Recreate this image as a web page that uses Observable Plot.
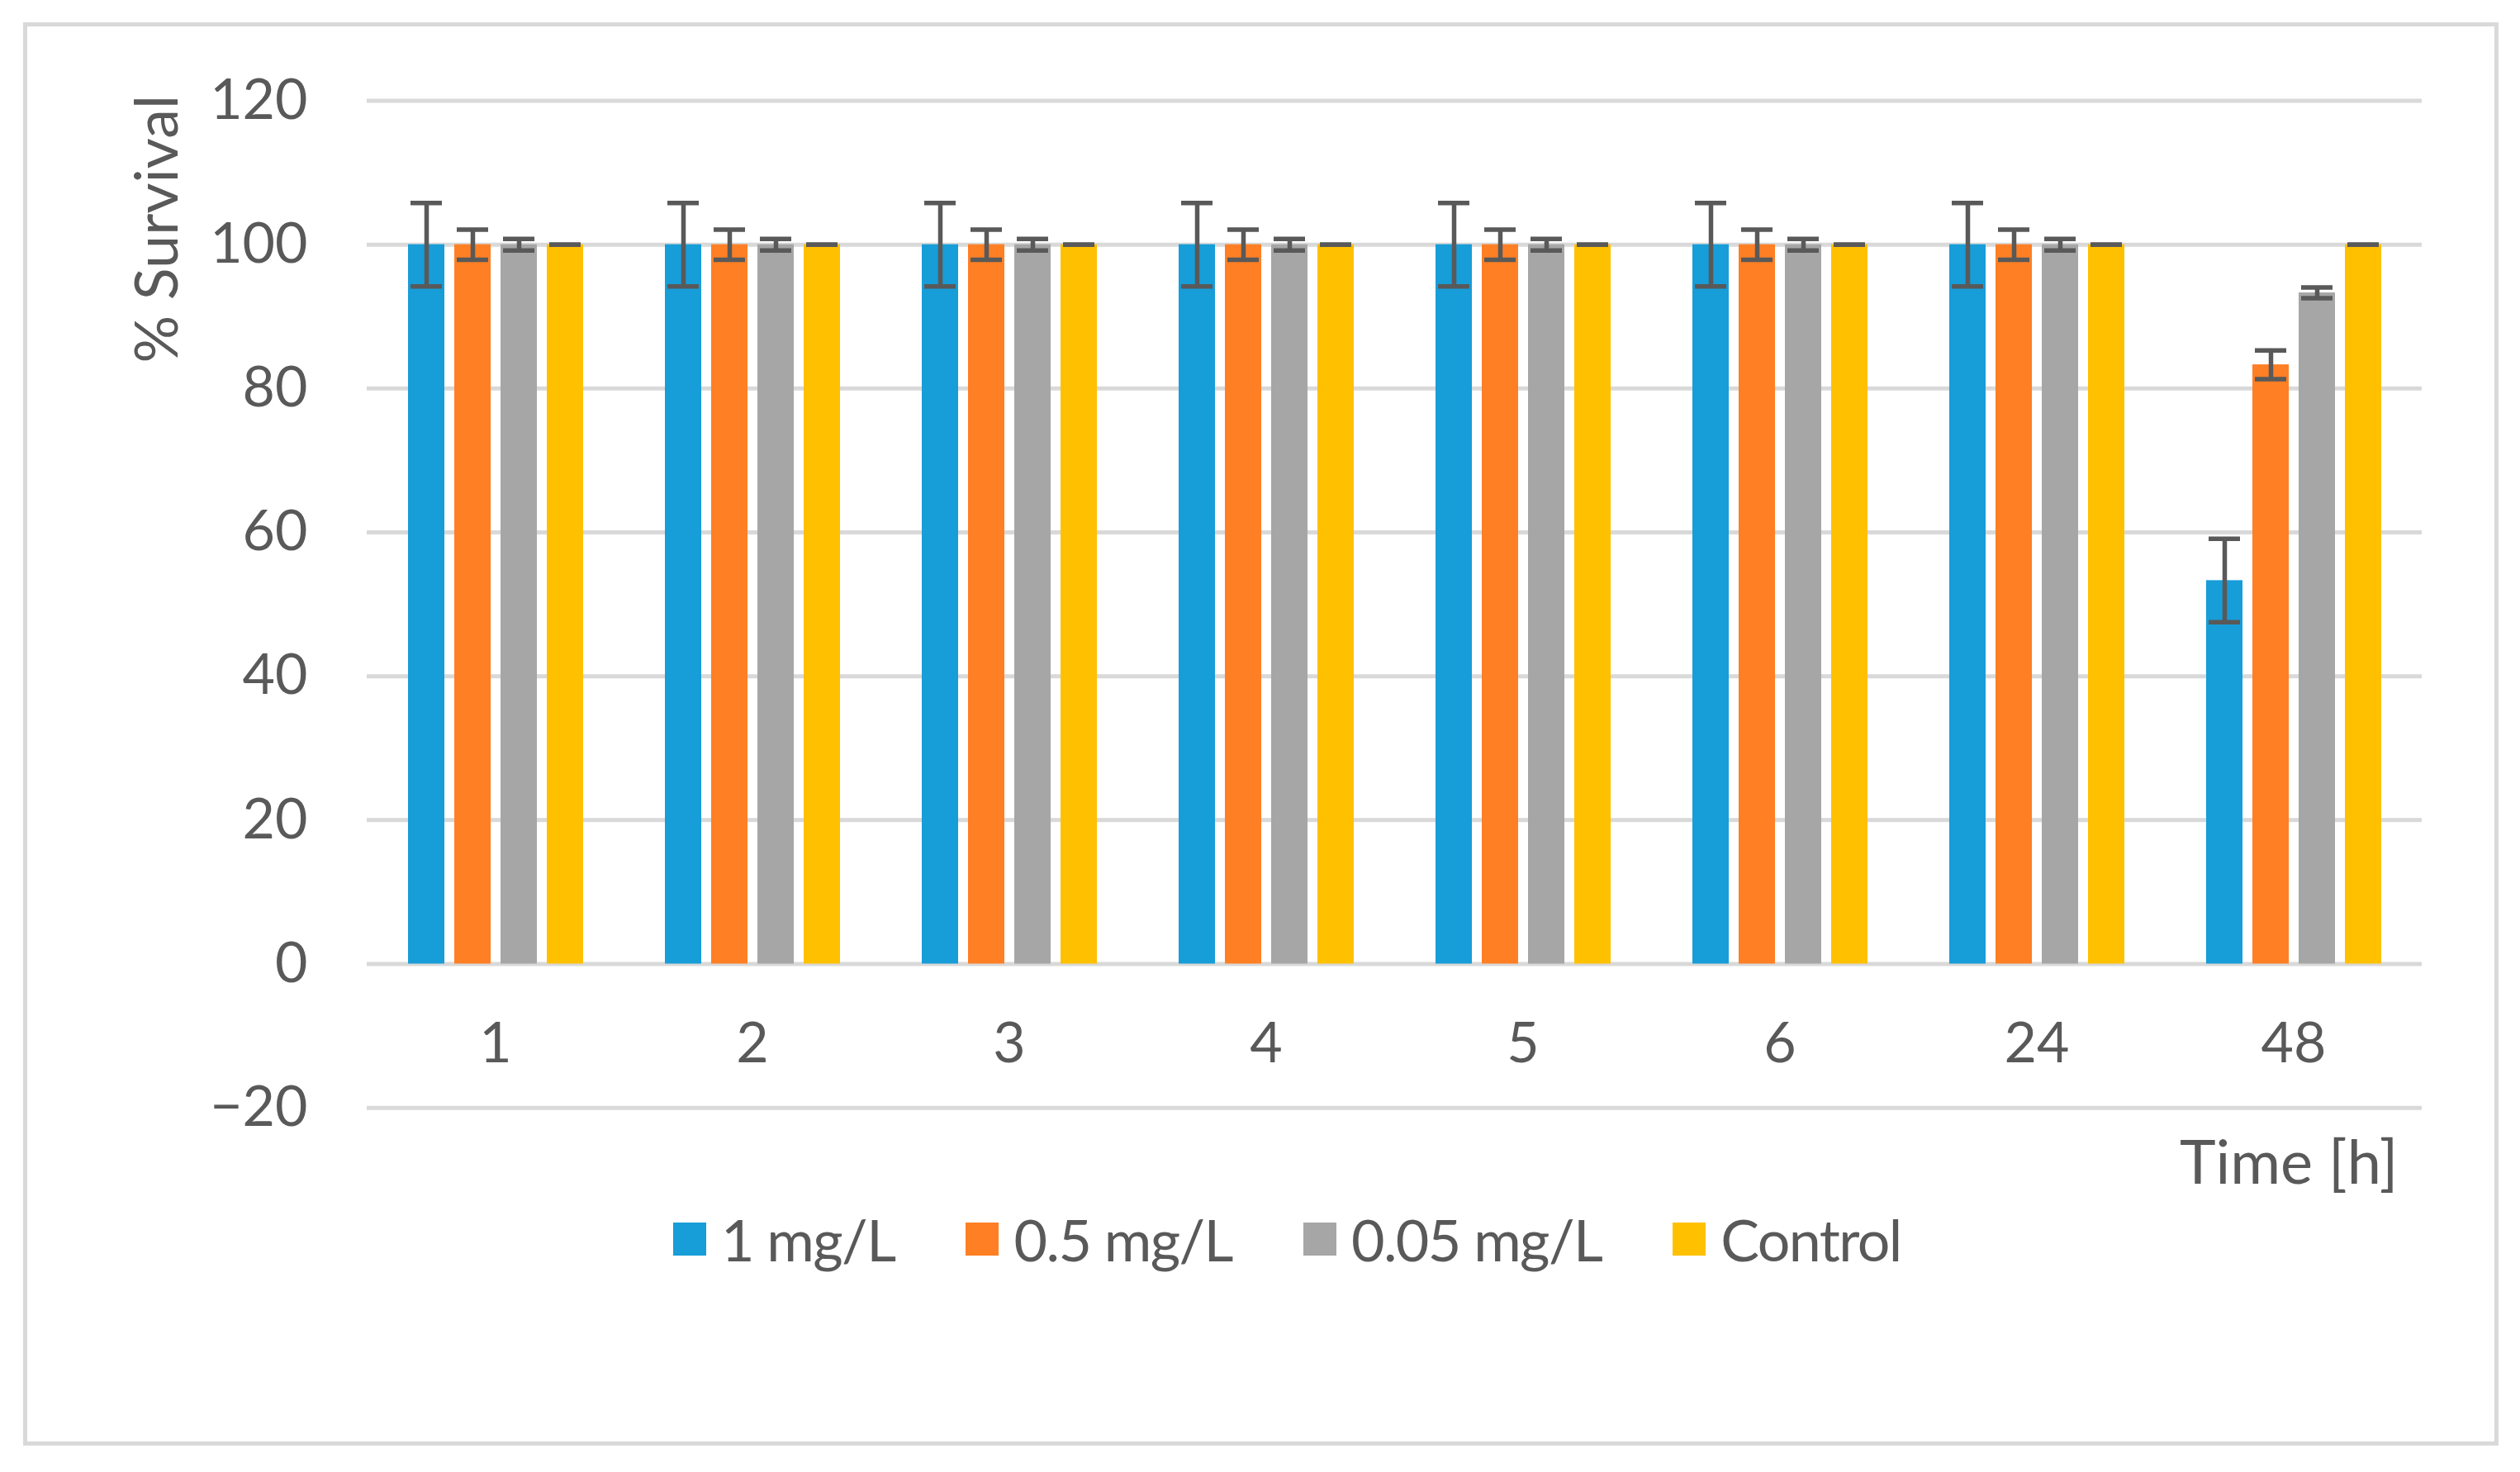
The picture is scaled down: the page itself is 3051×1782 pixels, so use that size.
<!DOCTYPE html>
<html>
<head>
<meta charset="utf-8">
<script src="https://cdn.jsdelivr.net/npm/d3@7"></script>
<script src="https://cdn.jsdelivr.net/npm/@observablehq/plot@0.6"></script>
<style>
  html, body { margin: 0; padding: 0; background: #ffffff; }
  #wrap { position: relative; width: 3051px; height: 1782px; overflow: hidden; background: #fff; }
  #frame { position: absolute; left: 28px; top: 27px; width: 2997px; height: 1723px;
           box-sizing: border-box; border: 5px solid #d9d9d9; }
  #chart { position: absolute; left: 0; top: 0; }
  #legend { position: absolute; left: 815px; top: 1458px; }
  #legend .leg-swatch { margin-right: 86px !important; letter-spacing: -1.6px; }
  #legend .leg-swatch > svg { margin-right: 18px !important; }
  #legend .leg-swatches { margin: 0 !important; }
</style>
</head>
<body>
<div id="wrap">
  <div id="frame"></div>
  <div id="chart"></div>
  <div id="legend"></div>
</div>
<script>
// ---- data ----
const times = ["1", "2", "3", "4", "5", "6", "24", "48"];
const series = ["1 mg/L", "0.5 mg/L", "0.05 mg/L", "Control"];
const colors = ["#179dd8", "#ff7f24", "#a6a6a6", "#ffc000"];

const survival1mg   = [100, 100, 100, 100, 100, 100, 100, 53.3];
const survival05mg  = [100, 100, 100, 100, 100, 100, 100, 83.3];
const survival005mg = [100, 100, 100, 100, 100, 100, 100, 93.3];
const survivalCtrl  = [100, 100, 100, 100, 100, 100, 100, 100];

const error1mg   = [5.8, 5.8, 5.8, 5.8, 5.8, 5.8, 5.8, 5.8];
const error05mg  = [2.1, 2.1, 2.1, 2.1, 2.1, 2.1, 2.1, 2.0];
const error005mg = [0.8, 0.8, 0.8, 0.8, 0.8, 0.8, 0.8, 0.75];
const errorCtrl  = [0, 0, 0, 0, 0, 0, 0, 0];

const yTicks = [-20, 0, 20, 40, 60, 80, 100, 120];
const yLabel = "% Survival";
const xLabel = "Time [h]";

// ---- table ----
const values = [survival1mg, survival05mg, survival005mg, survivalCtrl];
const errors = [error1mg, error05mg, error005mg, errorCtrl];
const rows = [];
series.forEach((s, si) => times.forEach((t, ti) => {
  rows.push({time: t, series: s, value: values[si][ti], err: errors[si][ti]});
}));

const textColor = "#595959";
const errColor = "#595959";
const fmt = d => d < 0 ? "\u2212" + Math.abs(d) : String(d);

const plot = Plot.plot({
  width: 3051,
  height: 1460,
  marginLeft: 444,
  marginRight: 119,
  marginTop: 121.5,
  marginBottom: 119.3,
  style: {fontFamily: "Lato", fontSize: "68px", color: textColor, background: "transparent", overflow: "visible"},
  fx: {domain: times, padding: 0, axis: null},
  x: {domain: series, paddingInner: 0.221, paddingOuter: 0.859, axis: null},
  y: {domain: [-20, 120]},
  color: {domain: series, range: colors},
  marks: [
    Plot.gridY(yTicks, {stroke: "#d9d9d9", strokeOpacity: 1, strokeWidth: 5}),
    Plot.axisY(yTicks, {tickSize: 0, tickPadding: 72, fontSize: 68, label: null, tickFormat: fmt, fill: textColor}),
    Plot.barY(rows, {fx: "time", x: "series", y: "value", fill: "series"}),
    Plot.ruleX(rows, {fx: "time", x: "series", y1: d => d.value - d.err, y2: d => d.value + d.err,
                      stroke: errColor, strokeWidth: 5.5}),
    Plot.tickY(rows, {fx: "time", x: "series", y: d => d.value + d.err, stroke: errColor,
                      strokeWidth: 5.5, insetLeft: 3, insetRight: 3}),
    Plot.tickY(rows, {fx: "time", x: "series", y: d => d.value - d.err, stroke: errColor,
                      strokeWidth: 5.5, insetLeft: 3, insetRight: 3}),
    Plot.text(times, {fx: d => d, text: d => d, frameAnchor: "bottom", lineAnchor: "bottom",
                      dy: -55, fontSize: 68, fill: textColor}),
    Plot.text([xLabel], {fx: () => times[times.length - 1], text: d => d, frameAnchor: "bottom-right",
                         textAnchor: "end", lineAnchor: "bottom", dx: -29, dy: 92, fontSize: 74, fill: textColor}),
    Plot.text([yLabel], {fx: () => times[0], text: d => d, frameAnchor: "top-left", rotate: -90,
                         textAnchor: "end", lineAnchor: "middle", dx: -253, dy: -7, fontSize: 72, fill: textColor})
  ]
});
document.getElementById("chart").appendChild(plot);

const legend = plot.legend("color", {
  swatchSize: 40,
  className: "leg",
  style: {fontFamily: "Lato", fontSize: "70px", color: textColor}
});
document.getElementById("legend").appendChild(legend);
</script>
</body>
</html>
